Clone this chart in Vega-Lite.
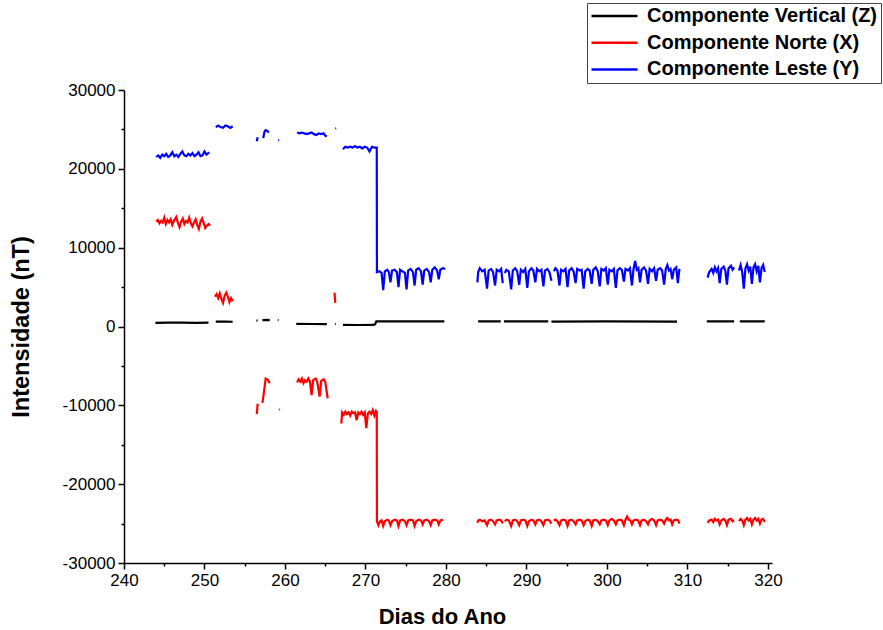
{
"$schema": "https://vega.github.io/schema/vega-lite/v6.json",
"width": 648,
"height": 473,
"autosize": {"type": "none"},
"padding": {"left": 124, "top": 90, "right": 111, "bottom": 67},
"background": "white",
"config": {"font": "Liberation Sans", "view": {"stroke": null}},
"data": {"values": [
{"c":"Y","s":"y1","d":244.0,"v":21500},{"c":"Y","s":"y1","d":244.25,"v":21700},{"c":"Y","s":"y1","d":244.5,"v":21400},{"c":"Y","s":"y1","d":244.75,"v":21800},{"c":"Y","s":"y1","d":245.0,"v":21600},{"c":"Y","s":"y1","d":245.25,"v":21900},{"c":"Y","s":"y1","d":245.5,"v":21500},{"c":"Y","s":"y1","d":245.75,"v":21700},{"c":"Y","s":"y1","d":246.0,"v":22100},{"c":"Y","s":"y1","d":246.25,"v":21600},{"c":"Y","s":"y1","d":246.5,"v":21800},{"c":"Y","s":"y1","d":246.75,"v":21500},{"c":"Y","s":"y1","d":247.0,"v":21900},{"c":"Y","s":"y1","d":247.25,"v":22200},{"c":"Y","s":"y1","d":247.5,"v":21700},{"c":"Y","s":"y1","d":247.75,"v":21600},{"c":"Y","s":"y1","d":248.0,"v":21900},{"c":"Y","s":"y1","d":248.25,"v":21700},{"c":"Y","s":"y1","d":248.5,"v":22000},{"c":"Y","s":"y1","d":248.75,"v":21600},{"c":"Y","s":"y1","d":249.0,"v":21800},{"c":"Y","s":"y1","d":249.25,"v":22100},{"c":"Y","s":"y1","d":249.5,"v":21600},{"c":"Y","s":"y1","d":249.75,"v":21700},{"c":"Y","s":"y1","d":250.0,"v":22200},{"c":"Y","s":"y1","d":250.25,"v":21800},{"c":"Y","s":"y1","d":250.6,"v":22100},
{"c":"Y","s":"y2","d":251.4,"v":25300},{"c":"Y","s":"y2","d":251.7,"v":25500},{"c":"Y","s":"y2","d":252.0,"v":25300},{"c":"Y","s":"y2","d":252.3,"v":25200},{"c":"Y","s":"y2","d":252.6,"v":25500},{"c":"Y","s":"y2","d":252.9,"v":25400},{"c":"Y","s":"y2","d":253.2,"v":25200},{"c":"Y","s":"y2","d":253.5,"v":25400},
{"c":"Y","s":"y3","d":256.5,"v":23500},{"c":"Y","s":"y3","d":256.6,"v":24000},
{"c":"Y","s":"y4","d":257.3,"v":23900},{"c":"Y","s":"y4","d":257.45,"v":24700},{"c":"Y","s":"y4","d":257.6,"v":24900},{"c":"Y","s":"y4","d":257.8,"v":24800},{"c":"Y","s":"y4","d":258.0,"v":24600},
{"c":"Y","s":"y5","d":259.15,"v":23600},{"c":"Y","s":"y5","d":259.25,"v":23650},
{"c":"Y","s":"y6","d":261.5,"v":24600},{"c":"Y","s":"y6","d":261.8,"v":24500},{"c":"Y","s":"y6","d":262.1,"v":24600},{"c":"Y","s":"y6","d":262.4,"v":24500},{"c":"Y","s":"y6","d":262.7,"v":24400},{"c":"Y","s":"y6","d":263.0,"v":24500},{"c":"Y","s":"y6","d":263.3,"v":24600},{"c":"Y","s":"y6","d":263.6,"v":24400},{"c":"Y","s":"y6","d":263.9,"v":24300},{"c":"Y","s":"y6","d":264.2,"v":24500},{"c":"Y","s":"y6","d":264.5,"v":24400},{"c":"Y","s":"y6","d":264.8,"v":24500},{"c":"Y","s":"y6","d":265.0,"v":24200},{"c":"Y","s":"y6","d":265.2,"v":24100},
{"c":"Y","s":"y7","d":266.25,"v":25100},{"c":"Y","s":"y7","d":266.35,"v":25150},
{"c":"Y","s":"y8","d":267.2,"v":22500},{"c":"Y","s":"y8","d":267.5,"v":22800},{"c":"Y","s":"y8","d":267.8,"v":22700},{"c":"Y","s":"y8","d":268.1,"v":22800},{"c":"Y","s":"y8","d":268.4,"v":22700},{"c":"Y","s":"y8","d":268.7,"v":22900},{"c":"Y","s":"y8","d":269.0,"v":22700},{"c":"Y","s":"y8","d":269.3,"v":22800},{"c":"Y","s":"y8","d":269.6,"v":22600},{"c":"Y","s":"y8","d":269.9,"v":22800},{"c":"Y","s":"y8","d":270.2,"v":22700},{"c":"Y","s":"y8","d":270.5,"v":22200},{"c":"Y","s":"y8","d":270.8,"v":22800},{"c":"Y","s":"y8","d":271.1,"v":22700},{"c":"Y","s":"y8","d":271.4,"v":22700},{"c":"Y","s":"y8","d":271.42,"v":6900},{"c":"Y","s":"y8","d":271.7,"v":7000},{"c":"Y","s":"y8","d":272.0,"v":6800},{"c":"Y","s":"y8","d":272.2,"v":4600},{"c":"Y","s":"y8","d":272.4,"v":7000},{"c":"Y","s":"y8","d":272.7,"v":7200},{"c":"Y","s":"y8","d":272.9,"v":6900},{"c":"Y","s":"y8","d":273.1,"v":5600},{"c":"Y","s":"y8","d":273.3,"v":7100},{"c":"Y","s":"y8","d":273.6,"v":7200},{"c":"Y","s":"y8","d":273.9,"v":6900},{"c":"Y","s":"y8","d":274.1,"v":5000},{"c":"Y","s":"y8","d":274.3,"v":7200},{"c":"Y","s":"y8","d":274.6,"v":7000},{"c":"Y","s":"y8","d":274.9,"v":6800},{"c":"Y","s":"y8","d":275.1,"v":4700},{"c":"Y","s":"y8","d":275.3,"v":7100},{"c":"Y","s":"y8","d":275.6,"v":7300},{"c":"Y","s":"y8","d":275.9,"v":6900},{"c":"Y","s":"y8","d":276.1,"v":5200},{"c":"Y","s":"y8","d":276.3,"v":7200},{"c":"Y","s":"y8","d":276.6,"v":7400},{"c":"Y","s":"y8","d":276.9,"v":7000},{"c":"Y","s":"y8","d":277.1,"v":5300},{"c":"Y","s":"y8","d":277.3,"v":7100},{"c":"Y","s":"y8","d":277.6,"v":7300},{"c":"Y","s":"y8","d":277.9,"v":6900},{"c":"Y","s":"y8","d":278.1,"v":5600},{"c":"Y","s":"y8","d":278.3,"v":7200},{"c":"Y","s":"y8","d":278.6,"v":7500},{"c":"Y","s":"y8","d":278.9,"v":7100},{"c":"Y","s":"y8","d":279.1,"v":6000},{"c":"Y","s":"y8","d":279.3,"v":7200},{"c":"Y","s":"y8","d":279.6,"v":7400},{"c":"Y","s":"y8","d":279.9,"v":7300},
{"c":"Y","s":"y9","d":283.9,"v":5600},{"c":"Y","s":"y9","d":284.0,"v":6900},{"c":"Y","s":"y9","d":284.2,"v":7400},{"c":"Y","s":"y9","d":284.5,"v":7000},{"c":"Y","s":"y9","d":284.8,"v":7200},{"c":"Y","s":"y9","d":285.1,"v":4800},{"c":"Y","s":"y9","d":285.3,"v":7100},{"c":"Y","s":"y9","d":285.6,"v":7300},{"c":"Y","s":"y9","d":285.85,"v":6900},{"c":"Y","s":"y9","d":286.1,"v":5200},{"c":"Y","s":"y9","d":286.3,"v":7200},{"c":"Y","s":"y9","d":286.6,"v":7000},{"c":"Y","s":"y9","d":286.85,"v":7300},{"c":"Y","s":"y9","d":287.05,"v":5500},
{"c":"Y","s":"y10","d":287.3,"v":6800},{"c":"Y","s":"y10","d":287.5,"v":7200},{"c":"Y","s":"y10","d":287.8,"v":7000},{"c":"Y","s":"y10","d":288.1,"v":4700},{"c":"Y","s":"y10","d":288.3,"v":7100},{"c":"Y","s":"y10","d":288.6,"v":7400},{"c":"Y","s":"y10","d":288.85,"v":7000},{"c":"Y","s":"y10","d":289.1,"v":5300},{"c":"Y","s":"y10","d":289.3,"v":7200},{"c":"Y","s":"y10","d":289.6,"v":6900},{"c":"Y","s":"y10","d":289.85,"v":7300},{"c":"Y","s":"y10","d":290.1,"v":4900},{"c":"Y","s":"y10","d":290.3,"v":7000},{"c":"Y","s":"y10","d":290.6,"v":7400},{"c":"Y","s":"y10","d":290.85,"v":7100},{"c":"Y","s":"y10","d":291.1,"v":5600},{"c":"Y","s":"y10","d":291.3,"v":7300},{"c":"Y","s":"y10","d":291.6,"v":7000},{"c":"Y","s":"y10","d":291.85,"v":7200},{"c":"Y","s":"y10","d":292.1,"v":5100},{"c":"Y","s":"y10","d":292.3,"v":7100},{"c":"Y","s":"y10","d":292.6,"v":7300},{"c":"Y","s":"y10","d":292.85,"v":6900},{"c":"Y","s":"y10","d":293.1,"v":5800},
{"c":"Y","s":"y11","d":293.4,"v":7000},{"c":"Y","s":"y11","d":293.6,"v":7400},{"c":"Y","s":"y11","d":293.85,"v":7100},{"c":"Y","s":"y11","d":294.1,"v":5200},{"c":"Y","s":"y11","d":294.3,"v":7200},{"c":"Y","s":"y11","d":294.6,"v":7000},{"c":"Y","s":"y11","d":294.85,"v":7300},{"c":"Y","s":"y11","d":295.1,"v":5000},{"c":"Y","s":"y11","d":295.3,"v":7100},{"c":"Y","s":"y11","d":295.6,"v":7400},{"c":"Y","s":"y11","d":295.85,"v":7000},{"c":"Y","s":"y11","d":296.1,"v":5500},{"c":"Y","s":"y11","d":296.3,"v":7300},{"c":"Y","s":"y11","d":296.6,"v":7100},{"c":"Y","s":"y11","d":296.85,"v":7200},{"c":"Y","s":"y11","d":297.1,"v":4800},{"c":"Y","s":"y11","d":297.3,"v":7000},{"c":"Y","s":"y11","d":297.6,"v":7300},{"c":"Y","s":"y11","d":297.85,"v":7100},{"c":"Y","s":"y11","d":298.1,"v":5400},{"c":"Y","s":"y11","d":298.3,"v":7200},{"c":"Y","s":"y11","d":298.6,"v":7500},{"c":"Y","s":"y11","d":298.85,"v":7000},{"c":"Y","s":"y11","d":299.1,"v":5100},{"c":"Y","s":"y11","d":299.3,"v":7300},{"c":"Y","s":"y11","d":299.6,"v":7100},{"c":"Y","s":"y11","d":299.85,"v":7400},{"c":"Y","s":"y11","d":300.1,"v":5300},{"c":"Y","s":"y11","d":300.3,"v":7200},{"c":"Y","s":"y11","d":300.6,"v":7000},{"c":"Y","s":"y11","d":300.85,"v":7300},{"c":"Y","s":"y11","d":301.1,"v":4900},{"c":"Y","s":"y11","d":301.3,"v":7100},{"c":"Y","s":"y11","d":301.6,"v":7400},{"c":"Y","s":"y11","d":301.85,"v":7200},{"c":"Y","s":"y11","d":302.1,"v":5700},{"c":"Y","s":"y11","d":302.3,"v":7300},{"c":"Y","s":"y11","d":302.6,"v":7100},{"c":"Y","s":"y11","d":302.85,"v":7400},{"c":"Y","s":"y11","d":303.1,"v":5200},{"c":"Y","s":"y11","d":303.3,"v":7300},{"c":"Y","s":"y11","d":303.5,"v":8300},{"c":"Y","s":"y11","d":303.7,"v":7200},{"c":"Y","s":"y11","d":303.9,"v":7400},{"c":"Y","s":"y11","d":304.1,"v":5600},{"c":"Y","s":"y11","d":304.3,"v":7200},{"c":"Y","s":"y11","d":304.6,"v":7500},{"c":"Y","s":"y11","d":304.85,"v":7100},{"c":"Y","s":"y11","d":305.1,"v":5400},{"c":"Y","s":"y11","d":305.3,"v":7300},{"c":"Y","s":"y11","d":305.6,"v":7000},{"c":"Y","s":"y11","d":305.85,"v":7400},{"c":"Y","s":"y11","d":306.1,"v":5800},{"c":"Y","s":"y11","d":306.3,"v":7200},{"c":"Y","s":"y11","d":306.6,"v":7400},{"c":"Y","s":"y11","d":306.85,"v":7100},{"c":"Y","s":"y11","d":307.1,"v":5300},{"c":"Y","s":"y11","d":307.3,"v":7300},{"c":"Y","s":"y11","d":307.5,"v":7800},{"c":"Y","s":"y11","d":307.7,"v":7100},{"c":"Y","s":"y11","d":307.9,"v":7300},{"c":"Y","s":"y11","d":308.1,"v":6000},{"c":"Y","s":"y11","d":308.3,"v":7200},{"c":"Y","s":"y11","d":308.6,"v":7500},{"c":"Y","s":"y11","d":308.8,"v":5500},{"c":"Y","s":"y11","d":309.0,"v":7300},
{"c":"Y","s":"y12","d":312.5,"v":6200},{"c":"Y","s":"y12","d":312.7,"v":6900},{"c":"Y","s":"y12","d":313.0,"v":7300},{"c":"Y","s":"y12","d":313.2,"v":6800},{"c":"Y","s":"y12","d":313.4,"v":7500},{"c":"Y","s":"y12","d":313.6,"v":7000},{"c":"Y","s":"y12","d":313.8,"v":7400},{"c":"Y","s":"y12","d":314.0,"v":5500},{"c":"Y","s":"y12","d":314.2,"v":7300},{"c":"Y","s":"y12","d":314.5,"v":7600},{"c":"Y","s":"y12","d":314.7,"v":7100},{"c":"Y","s":"y12","d":314.9,"v":5300},{"c":"Y","s":"y12","d":315.1,"v":7400},{"c":"Y","s":"y12","d":315.4,"v":7700},{"c":"Y","s":"y12","d":315.6,"v":7200},{"c":"Y","s":"y12","d":315.8,"v":7500},
{"c":"Y","s":"y13","d":316.4,"v":7100},{"c":"Y","s":"y13","d":316.6,"v":7800},{"c":"Y","s":"y13","d":316.8,"v":6900},{"c":"Y","s":"y13","d":317.0,"v":4800},{"c":"Y","s":"y13","d":317.2,"v":7400},{"c":"Y","s":"y13","d":317.4,"v":7900},{"c":"Y","s":"y13","d":317.6,"v":7100},{"c":"Y","s":"y13","d":317.8,"v":7600},{"c":"Y","s":"y13","d":318.0,"v":5400},{"c":"Y","s":"y13","d":318.2,"v":7500},{"c":"Y","s":"y13","d":318.4,"v":7900},{"c":"Y","s":"y13","d":318.6,"v":7000},{"c":"Y","s":"y13","d":318.8,"v":7700},{"c":"Y","s":"y13","d":319.0,"v":5600},{"c":"Y","s":"y13","d":319.2,"v":7400},{"c":"Y","s":"y13","d":319.4,"v":7800},{"c":"Y","s":"y13","d":319.6,"v":6900},

{"c":"X","s":"x1","d":244.0,"v":13300},{"c":"X","s":"x1","d":244.2,"v":13500},{"c":"X","s":"x1","d":244.4,"v":13100},{"c":"X","s":"x1","d":244.6,"v":13400},{"c":"X","s":"x1","d":244.8,"v":13200},{"c":"X","s":"x1","d":245.0,"v":13800},{"c":"X","s":"x1","d":245.2,"v":13000},{"c":"X","s":"x1","d":245.4,"v":13500},{"c":"X","s":"x1","d":245.6,"v":13200},{"c":"X","s":"x1","d":245.8,"v":13600},{"c":"X","s":"x1","d":246.0,"v":12900},{"c":"X","s":"x1","d":246.2,"v":13400},{"c":"X","s":"x1","d":246.5,"v":13900},{"c":"X","s":"x1","d":246.7,"v":13100},{"c":"X","s":"x1","d":246.9,"v":12600},{"c":"X","s":"x1","d":247.1,"v":13300},{"c":"X","s":"x1","d":247.3,"v":13700},{"c":"X","s":"x1","d":247.5,"v":13000},{"c":"X","s":"x1","d":247.7,"v":13400},{"c":"X","s":"x1","d":247.9,"v":13200},{"c":"X","s":"x1","d":248.1,"v":13800},{"c":"X","s":"x1","d":248.3,"v":13100},{"c":"X","s":"x1","d":248.5,"v":12700},{"c":"X","s":"x1","d":248.7,"v":13200},{"c":"X","s":"x1","d":248.9,"v":13600},{"c":"X","s":"x1","d":249.1,"v":12900},{"c":"X","s":"x1","d":249.3,"v":12400},{"c":"X","s":"x1","d":249.5,"v":13300},{"c":"X","s":"x1","d":249.7,"v":13700},{"c":"X","s":"x1","d":249.9,"v":13100},{"c":"X","s":"x1","d":250.1,"v":12500},{"c":"X","s":"x1","d":250.3,"v":12800},{"c":"X","s":"x1","d":250.5,"v":13000},{"c":"X","s":"x1","d":250.7,"v":12800},
{"c":"X","s":"x2","d":251.3,"v":3800},{"c":"X","s":"x2","d":251.5,"v":4100},{"c":"X","s":"x2","d":251.7,"v":3600},{"c":"X","s":"x2","d":251.9,"v":4200},{"c":"X","s":"x2","d":252.1,"v":3500},{"c":"X","s":"x2","d":252.3,"v":3000},{"c":"X","s":"x2","d":252.5,"v":3900},{"c":"X","s":"x2","d":252.7,"v":4300},{"c":"X","s":"x2","d":252.9,"v":3800},{"c":"X","s":"x2","d":253.1,"v":3100},{"c":"X","s":"x2","d":253.3,"v":3600},{"c":"X","s":"x2","d":253.5,"v":3200},
{"c":"X","s":"x3","d":266.15,"v":4300},{"c":"X","s":"x3","d":266.25,"v":3000},
{"c":"X","s":"x4","d":256.5,"v":-11100},{"c":"X","s":"x4","d":256.6,"v":-9800},
{"c":"X","s":"x5","d":257.2,"v":-9700},{"c":"X","s":"x5","d":257.4,"v":-8200},{"c":"X","s":"x5","d":257.6,"v":-6600},{"c":"X","s":"x5","d":257.9,"v":-6800},{"c":"X","s":"x5","d":258.1,"v":-7200},
{"c":"X","s":"x6","d":259.25,"v":-10500},{"c":"X","s":"x6","d":259.35,"v":-10550},
{"c":"X","s":"x7","d":261.5,"v":-7100},{"c":"X","s":"x7","d":261.7,"v":-6700},{"c":"X","s":"x7","d":261.9,"v":-7000},{"c":"X","s":"x7","d":262.1,"v":-6600},{"c":"X","s":"x7","d":262.3,"v":-7200},{"c":"X","s":"x7","d":262.5,"v":-6800},{"c":"X","s":"x7","d":262.7,"v":-7000},{"c":"X","s":"x7","d":262.9,"v":-6600},{"c":"X","s":"x7","d":263.1,"v":-7000},{"c":"X","s":"x7","d":263.3,"v":-8700},{"c":"X","s":"x7","d":263.5,"v":-6800},{"c":"X","s":"x7","d":263.8,"v":-6600},{"c":"X","s":"x7","d":264.0,"v":-7000},{"c":"X","s":"x7","d":264.3,"v":-8900},{"c":"X","s":"x7","d":264.5,"v":-6900},{"c":"X","s":"x7","d":264.8,"v":-6700},{"c":"X","s":"x7","d":265.0,"v":-7000},{"c":"X","s":"x7","d":265.3,"v":-9100},
{"c":"X","s":"x8","d":267.0,"v":-12300},{"c":"X","s":"x8","d":267.1,"v":-10900},{"c":"X","s":"x8","d":267.3,"v":-11200},{"c":"X","s":"x8","d":267.5,"v":-10800},{"c":"X","s":"x8","d":267.7,"v":-11100},{"c":"X","s":"x8","d":267.9,"v":-10900},{"c":"X","s":"x8","d":268.1,"v":-11300},{"c":"X","s":"x8","d":268.3,"v":-10800},{"c":"X","s":"x8","d":268.5,"v":-11000},{"c":"X","s":"x8","d":268.7,"v":-10900},{"c":"X","s":"x8","d":268.9,"v":-11900},{"c":"X","s":"x8","d":269.1,"v":-10900},{"c":"X","s":"x8","d":269.3,"v":-11100},{"c":"X","s":"x8","d":269.5,"v":-10800},{"c":"X","s":"x8","d":269.7,"v":-11200},{"c":"X","s":"x8","d":269.9,"v":-10900},{"c":"X","s":"x8","d":270.1,"v":-12900},{"c":"X","s":"x8","d":270.3,"v":-11000},{"c":"X","s":"x8","d":270.5,"v":-10800},{"c":"X","s":"x8","d":270.7,"v":-11100},{"c":"X","s":"x8","d":270.9,"v":-10600},{"c":"X","s":"x8","d":271.1,"v":-11300},{"c":"X","s":"x8","d":271.3,"v":-10700},{"c":"X","s":"x8","d":271.4,"v":-10800},{"c":"X","s":"x8","d":271.42,"v":-24700},{"c":"X","s":"x8","d":271.6,"v":-25200},{"c":"X","s":"x8","d":271.8,"v":-24700},{"c":"X","s":"x8","d":272.0,"v":-24600},{"c":"X","s":"x8","d":272.2,"v":-25300},{"c":"X","s":"x8","d":272.4,"v":-24700},{"c":"X","s":"x8","d":272.7,"v":-24500},{"c":"X","s":"x8","d":272.9,"v":-24600},{"c":"X","s":"x8","d":273.1,"v":-25200},{"c":"X","s":"x8","d":273.3,"v":-24700},{"c":"X","s":"x8","d":273.6,"v":-24500},{"c":"X","s":"x8","d":273.9,"v":-24600},{"c":"X","s":"x8","d":274.1,"v":-25300},{"c":"X","s":"x8","d":274.3,"v":-24600},{"c":"X","s":"x8","d":274.6,"v":-24500},{"c":"X","s":"x8","d":274.9,"v":-24700},{"c":"X","s":"x8","d":275.1,"v":-25200},{"c":"X","s":"x8","d":275.3,"v":-24600},{"c":"X","s":"x8","d":275.6,"v":-24500},{"c":"X","s":"x8","d":275.9,"v":-24600},{"c":"X","s":"x8","d":276.1,"v":-25300},{"c":"X","s":"x8","d":276.3,"v":-24700},{"c":"X","s":"x8","d":276.6,"v":-24500},{"c":"X","s":"x8","d":276.9,"v":-24600},{"c":"X","s":"x8","d":277.1,"v":-25100},{"c":"X","s":"x8","d":277.3,"v":-24600},{"c":"X","s":"x8","d":277.6,"v":-24500},{"c":"X","s":"x8","d":277.9,"v":-24700},{"c":"X","s":"x8","d":278.1,"v":-25200},{"c":"X","s":"x8","d":278.3,"v":-24600},{"c":"X","s":"x8","d":278.6,"v":-24500},{"c":"X","s":"x8","d":278.9,"v":-24600},{"c":"X","s":"x8","d":279.1,"v":-25100},{"c":"X","s":"x8","d":279.3,"v":-24600},{"c":"X","s":"x8","d":279.6,"v":-24500},
{"c":"X","s":"x9","d":283.9,"v":-24900},{"c":"X","s":"x9","d":284.0,"v":-24600},{"c":"X","s":"x9","d":284.2,"v":-24500},{"c":"X","s":"x9","d":284.5,"v":-24700},{"c":"X","s":"x9","d":284.8,"v":-24600},{"c":"X","s":"x9","d":285.1,"v":-25200},{"c":"X","s":"x9","d":285.3,"v":-24600},{"c":"X","s":"x9","d":285.6,"v":-24500},{"c":"X","s":"x9","d":285.85,"v":-24700},{"c":"X","s":"x9","d":286.1,"v":-25100},{"c":"X","s":"x9","d":286.3,"v":-24600},{"c":"X","s":"x9","d":286.6,"v":-24500},{"c":"X","s":"x9","d":286.85,"v":-24600},{"c":"X","s":"x9","d":287.05,"v":-25000},
{"c":"X","s":"x10","d":287.3,"v":-24700},{"c":"X","s":"x10","d":287.5,"v":-24500},{"c":"X","s":"x10","d":287.8,"v":-24600},{"c":"X","s":"x10","d":288.1,"v":-25300},{"c":"X","s":"x10","d":288.3,"v":-24600},{"c":"X","s":"x10","d":288.6,"v":-24500},{"c":"X","s":"x10","d":288.85,"v":-24700},{"c":"X","s":"x10","d":289.1,"v":-25200},{"c":"X","s":"x10","d":289.3,"v":-24600},{"c":"X","s":"x10","d":289.6,"v":-24500},{"c":"X","s":"x10","d":289.85,"v":-24600},{"c":"X","s":"x10","d":290.1,"v":-25300},{"c":"X","s":"x10","d":290.3,"v":-24700},{"c":"X","s":"x10","d":290.6,"v":-24500},{"c":"X","s":"x10","d":290.85,"v":-24600},{"c":"X","s":"x10","d":291.1,"v":-25100},{"c":"X","s":"x10","d":291.3,"v":-24600},{"c":"X","s":"x10","d":291.6,"v":-24500},{"c":"X","s":"x10","d":291.85,"v":-24700},{"c":"X","s":"x10","d":292.1,"v":-25200},{"c":"X","s":"x10","d":292.3,"v":-24600},{"c":"X","s":"x10","d":292.6,"v":-24500},{"c":"X","s":"x10","d":292.85,"v":-24600},{"c":"X","s":"x10","d":293.1,"v":-25000},
{"c":"X","s":"x11","d":293.4,"v":-24600},{"c":"X","s":"x11","d":293.6,"v":-24500},{"c":"X","s":"x11","d":293.85,"v":-24700},{"c":"X","s":"x11","d":294.1,"v":-25200},{"c":"X","s":"x11","d":294.3,"v":-24600},{"c":"X","s":"x11","d":294.6,"v":-24500},{"c":"X","s":"x11","d":294.85,"v":-24600},{"c":"X","s":"x11","d":295.1,"v":-25300},{"c":"X","s":"x11","d":295.3,"v":-24600},{"c":"X","s":"x11","d":295.6,"v":-24500},{"c":"X","s":"x11","d":295.85,"v":-24700},{"c":"X","s":"x11","d":296.1,"v":-25100},{"c":"X","s":"x11","d":296.3,"v":-24600},{"c":"X","s":"x11","d":296.6,"v":-24500},{"c":"X","s":"x11","d":296.85,"v":-24600},{"c":"X","s":"x11","d":297.1,"v":-25200},{"c":"X","s":"x11","d":297.3,"v":-24700},{"c":"X","s":"x11","d":297.6,"v":-24500},{"c":"X","s":"x11","d":297.85,"v":-24600},{"c":"X","s":"x11","d":298.1,"v":-25300},{"c":"X","s":"x11","d":298.3,"v":-24600},{"c":"X","s":"x11","d":298.6,"v":-24500},{"c":"X","s":"x11","d":298.85,"v":-24700},{"c":"X","s":"x11","d":299.1,"v":-25100},{"c":"X","s":"x11","d":299.3,"v":-24600},{"c":"X","s":"x11","d":299.6,"v":-24500},{"c":"X","s":"x11","d":299.85,"v":-24600},{"c":"X","s":"x11","d":300.1,"v":-25200},{"c":"X","s":"x11","d":300.3,"v":-24600},{"c":"X","s":"x11","d":300.6,"v":-24400},{"c":"X","s":"x11","d":300.85,"v":-24600},{"c":"X","s":"x11","d":301.1,"v":-25100},{"c":"X","s":"x11","d":301.3,"v":-24600},{"c":"X","s":"x11","d":301.6,"v":-24500},{"c":"X","s":"x11","d":301.85,"v":-24600},{"c":"X","s":"x11","d":302.1,"v":-25200},{"c":"X","s":"x11","d":302.3,"v":-24500},{"c":"X","s":"x11","d":302.5,"v":-24100},{"c":"X","s":"x11","d":302.7,"v":-24500},{"c":"X","s":"x11","d":302.9,"v":-24600},{"c":"X","s":"x11","d":303.1,"v":-25100},{"c":"X","s":"x11","d":303.3,"v":-24600},{"c":"X","s":"x11","d":303.6,"v":-24500},{"c":"X","s":"x11","d":303.85,"v":-24600},{"c":"X","s":"x11","d":304.1,"v":-25200},{"c":"X","s":"x11","d":304.3,"v":-24600},{"c":"X","s":"x11","d":304.6,"v":-24500},{"c":"X","s":"x11","d":304.85,"v":-24700},{"c":"X","s":"x11","d":305.1,"v":-25100},{"c":"X","s":"x11","d":305.3,"v":-24600},{"c":"X","s":"x11","d":305.6,"v":-24400},{"c":"X","s":"x11","d":305.85,"v":-24600},{"c":"X","s":"x11","d":306.1,"v":-25200},{"c":"X","s":"x11","d":306.3,"v":-24600},{"c":"X","s":"x11","d":306.6,"v":-24500},{"c":"X","s":"x11","d":306.85,"v":-24600},{"c":"X","s":"x11","d":307.1,"v":-25000},{"c":"X","s":"x11","d":307.3,"v":-24500},{"c":"X","s":"x11","d":307.5,"v":-24300},{"c":"X","s":"x11","d":307.7,"v":-24600},{"c":"X","s":"x11","d":307.9,"v":-24500},{"c":"X","s":"x11","d":308.1,"v":-25100},{"c":"X","s":"x11","d":308.3,"v":-24600},{"c":"X","s":"x11","d":308.6,"v":-24500},{"c":"X","s":"x11","d":308.85,"v":-24600},{"c":"X","s":"x11","d":309.0,"v":-25000},
{"c":"X","s":"x12","d":312.5,"v":-24900},{"c":"X","s":"x12","d":312.7,"v":-24600},{"c":"X","s":"x12","d":313.0,"v":-24500},{"c":"X","s":"x12","d":313.2,"v":-24800},{"c":"X","s":"x12","d":313.4,"v":-24400},{"c":"X","s":"x12","d":313.6,"v":-24600},{"c":"X","s":"x12","d":313.8,"v":-24500},{"c":"X","s":"x12","d":314.0,"v":-25100},{"c":"X","s":"x12","d":314.2,"v":-24600},{"c":"X","s":"x12","d":314.5,"v":-24400},{"c":"X","s":"x12","d":314.7,"v":-24600},{"c":"X","s":"x12","d":314.9,"v":-25200},{"c":"X","s":"x12","d":315.1,"v":-24500},{"c":"X","s":"x12","d":315.4,"v":-24400},{"c":"X","s":"x12","d":315.6,"v":-24700},{"c":"X","s":"x12","d":315.8,"v":-24600},
{"c":"X","s":"x13","d":316.4,"v":-24700},{"c":"X","s":"x13","d":316.6,"v":-24400},{"c":"X","s":"x13","d":316.8,"v":-24600},{"c":"X","s":"x13","d":317.0,"v":-25200},{"c":"X","s":"x13","d":317.2,"v":-24500},{"c":"X","s":"x13","d":317.4,"v":-24300},{"c":"X","s":"x13","d":317.6,"v":-24600},{"c":"X","s":"x13","d":317.8,"v":-24400},{"c":"X","s":"x13","d":318.0,"v":-25100},{"c":"X","s":"x13","d":318.2,"v":-24500},{"c":"X","s":"x13","d":318.4,"v":-24300},{"c":"X","s":"x13","d":318.6,"v":-24600},{"c":"X","s":"x13","d":318.8,"v":-24400},{"c":"X","s":"x13","d":319.0,"v":-25000},{"c":"X","s":"x13","d":319.2,"v":-24500},{"c":"X","s":"x13","d":319.4,"v":-24400},{"c":"X","s":"x13","d":319.6,"v":-24800},

{"c":"Z","s":"z1","d":243.9,"v":470},{"c":"Z","s":"z1","d":245.5,"v":490},{"c":"Z","s":"z1","d":247.2,"v":480},{"c":"Z","s":"z1","d":249.0,"v":470},{"c":"Z","s":"z1","d":250.5,"v":480},
{"c":"Z","s":"z2","d":251.4,"v":620},{"c":"Z","s":"z2","d":252.5,"v":610},{"c":"Z","s":"z2","d":253.5,"v":600},
{"c":"Z","s":"z3","d":256.45,"v":760},{"c":"Z","s":"z3","d":256.6,"v":740},
{"c":"Z","s":"z4","d":257.2,"v":820},{"c":"Z","s":"z4","d":257.7,"v":830},{"c":"Z","s":"z4","d":258.1,"v":820},
{"c":"Z","s":"z5","d":259.1,"v":820},{"c":"Z","s":"z5","d":259.2,"v":810},
{"c":"Z","s":"z6","d":261.4,"v":330},{"c":"Z","s":"z6","d":263.3,"v":320},{"c":"Z","s":"z6","d":265.2,"v":310},
{"c":"Z","s":"z7","d":266.2,"v":300},{"c":"Z","s":"z7","d":266.3,"v":290},
{"c":"Z","s":"z8","d":267.2,"v":200},{"c":"Z","s":"z8","d":269.1,"v":190},{"c":"Z","s":"z8","d":271.0,"v":200},{"c":"Z","s":"z8","d":271.2,"v":300},{"c":"Z","s":"z8","d":271.35,"v":640},{"c":"Z","s":"z8","d":275.0,"v":650},{"c":"Z","s":"z8","d":279.8,"v":650},
{"c":"Z","s":"z9","d":284.0,"v":650},{"c":"Z","s":"z9","d":285.4,"v":640},{"c":"Z","s":"z9","d":286.8,"v":650},
{"c":"Z","s":"z10","d":287.2,"v":650},{"c":"Z","s":"z10","d":290.0,"v":640},{"c":"Z","s":"z10","d":292.7,"v":650},
{"c":"Z","s":"z11","d":293.1,"v":630},{"c":"Z","s":"z11","d":300.0,"v":640},{"c":"Z","s":"z11","d":308.7,"v":630},
{"c":"Z","s":"z12","d":312.4,"v":640},{"c":"Z","s":"z12","d":314.1,"v":650},{"c":"Z","s":"z12","d":315.8,"v":640},
{"c":"Z","s":"z13","d":316.5,"v":640},{"c":"Z","s":"z13","d":318.0,"v":650},{"c":"Z","s":"z13","d":319.6,"v":640}
]},
"mark": {"type": "line", "strokeWidth": 2.2},
"encoding": {
  "x": {"field": "d", "type": "quantitative",
    "scale": {"domain": [240, 320.5], "nice": false, "zero": false},
    "axis": {"title": "Dias do Ano", "values": [240,245,250,255,260,265,270,275,280,285,290,295,300,305,310,315,320],
      "labelExpr": "datum.value % 10 === 0 ? '' + datum.value : ''",
      "grid": false, "domainColor": "#000", "domainWidth": 1.5, "tickColor": "#000", "tickWidth": 1.5,
      "tickSize": {"condition": {"test": "datum.value % 10 === 0", "value": 6}, "value": 3},
      "labelFontSize": 17, "labelColor": "#000", "labelPadding": 3, "labelFlush": false, "labelOverlap": false,
      "titleFontSize": 22, "titleFontWeight": "bold", "titleColor": "#000", "titlePadding": 18, "titleX": 318}},
  "y": {"field": "v", "type": "quantitative",
    "scale": {"domain": [-30000, 30000], "nice": false},
    "axis": {"title": "Intensidade (nT)", "values": [-30000,-25000,-20000,-15000,-10000,-5000,0,5000,10000,15000,20000,25000,30000],
      "labelExpr": "datum.value % 10000 === 0 ? '' + datum.value : ''",
      "grid": false, "domainColor": "#000", "domainWidth": 1.5, "tickColor": "#000", "tickWidth": 1.5,
      "tickSize": {"condition": {"test": "datum.value % 10000 === 0", "value": 6}, "value": 3},
      "labelFontSize": 17, "labelColor": "#000", "labelPadding": 3, "labelFlush": false, "labelOverlap": false,
      "titleFontSize": 23.5, "titleFontWeight": "bold", "titleColor": "#000", "titlePadding": 29}},
  "color": {"field": "c", "type": "nominal",
    "scale": {"domain": ["Z", "X", "Y"], "range": ["#000000", "#ff0000", "#0000ff"]},
    "legend": {"title": null, "orient": "none", "legendX": 463, "legendY": -87,
      "labelExpr": "{'Z': 'Componente Vertical (Z)', 'X': 'Componente Norte (X)', 'Y': 'Componente Leste (Y)'}[datum.label]",
      "symbolType": "stroke", "symbolSize": 2116, "symbolStrokeWidth": 2.5, "clipHeight": 20,
      "labelFontSize": 20, "labelFontWeight": "bold", "labelColor": "#000", "labelOffset": 8, "labelLimit": 400,
      "rowPadding": 6.7, "padding": 3, "strokeColor": "#444", "fillColor": "#ffffff"}},
  "detail": {"field": "s"}
}
}
